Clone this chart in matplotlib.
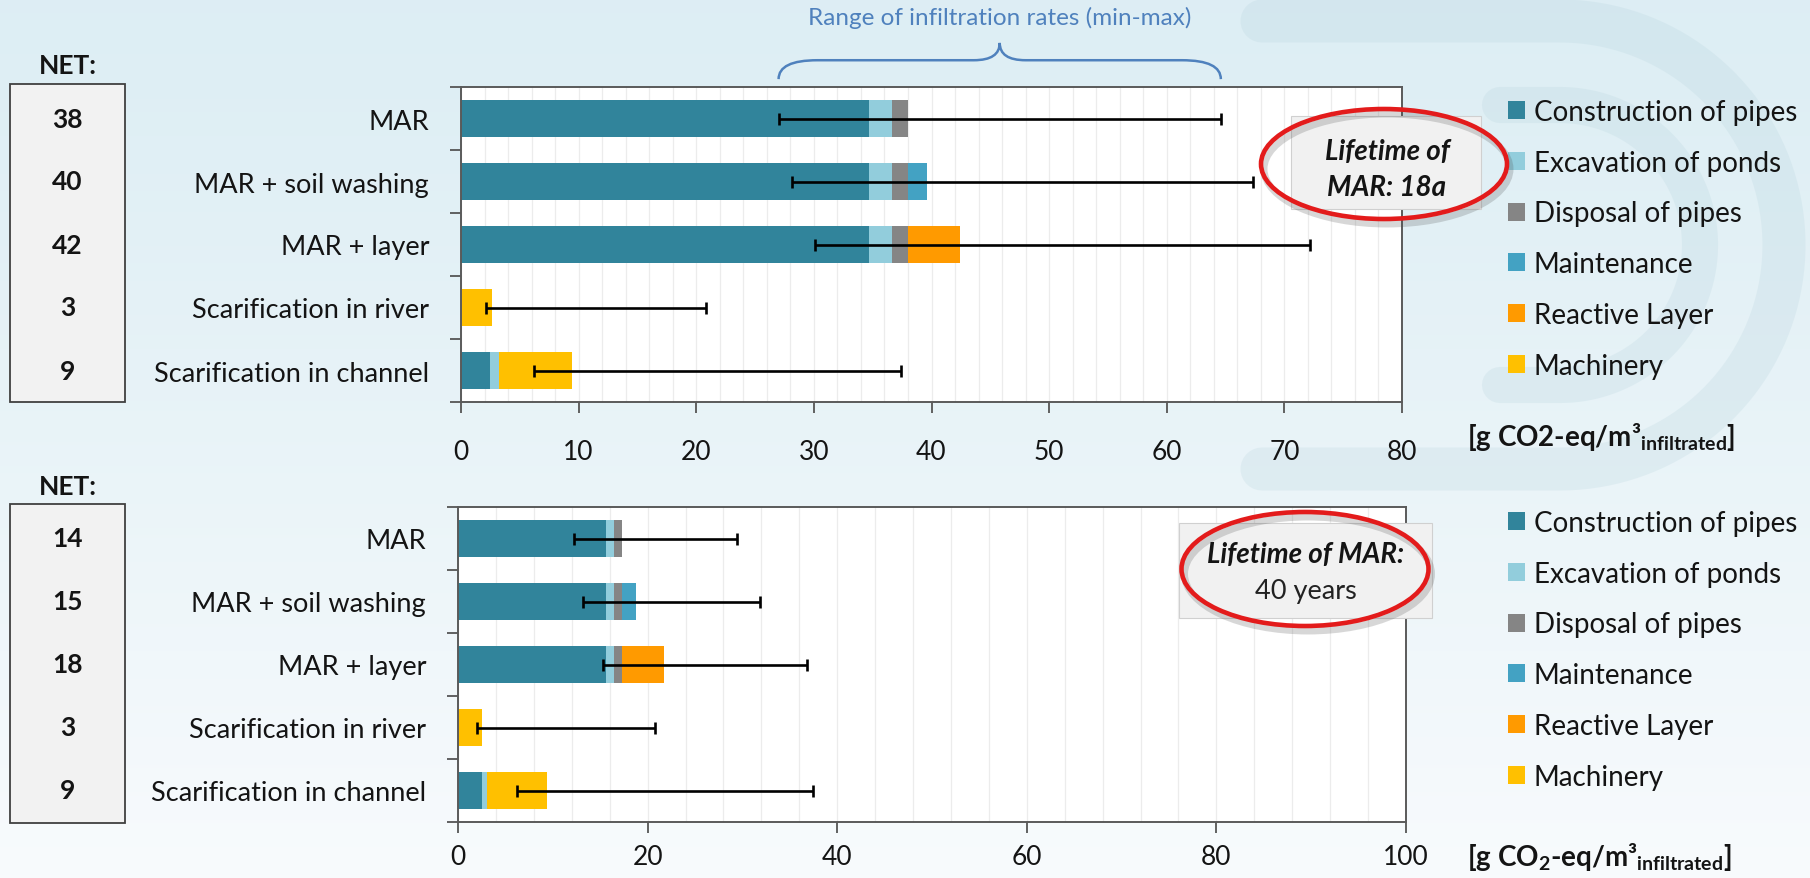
import numpy as np
import matplotlib
matplotlib.use("Agg")
import matplotlib.pyplot as plt
from matplotlib.patches import Rectangle, Ellipse, Patch, PathPatch
from matplotlib.path import Path
from matplotlib.transforms import blended_transform_factory

plt.rcParams['font.family'] = ['Lato', 'DejaVu Sans']
plt.rcParams['mathtext.fontset'] = 'custom'
plt.rcParams['mathtext.rm'] = 'Lato'
plt.rcParams['mathtext.bf'] = 'Lato:bold'
plt.rcParams['mathtext.it'] = 'Lato:italic'

# ---------------------------------------------------------------- data
categories = ["MAR", "MAR + soil washing", "MAR + layer",
              "Scarification in river", "Scarification in channel"]
components = ["Construction of pipes", "Excavation of ponds", "Disposal of pipes",
              "Maintenance", "Reactive Layer", "Machinery"]
colors = ["#31849b", "#92cddc", "#858585", "#43a2c3", "#ff9a00", "#ffc000"]

# lifetime of MAR: 18 years
construction_18 = [34.7, 34.7, 34.7, 0.0, 2.5]
excavation_18 = [1.9, 1.9, 1.9, 0.0, 0.7]
disposal_18 = [1.4, 1.4, 1.4, 0.0, 0.0]
maintenance_18 = [0.0, 1.6, 0.0, 0.0, 0.0]
reactive_18 = [0.0, 0.0, 4.4, 0.0, 0.0]
machinery_18 = [0.0, 0.0, 0.0, 2.6, 6.2]
range_min_18 = [27.0, 28.1, 30.1, 2.1, 6.2]
range_max_18 = [64.6, 67.3, 72.2, 20.8, 37.4]
net_18 = [38, 40, 42, 3, 9]

# lifetime of MAR: 40 years
construction_40 = [15.6, 15.6, 15.6, 0.0, 2.5]
excavation_40 = [0.9, 0.9, 0.9, 0.0, 0.6]
disposal_40 = [0.8, 0.8, 0.8, 0.0, 0.0]
maintenance_40 = [0.0, 1.5, 0.0, 0.0, 0.0]
reactive_40 = [0.0, 0.0, 4.4, 0.0, 0.0]
machinery_40 = [0.0, 0.0, 0.0, 2.5, 6.3]
range_min_40 = [12.2, 13.2, 15.3, 2.0, 6.2]
range_max_40 = [29.4, 31.9, 36.8, 20.8, 37.4]
net_40 = [14, 15, 18, 3, 9]

ticks_18 = [0, 10, 20, 30, 40, 50, 60, 70, 80]
ticks_40 = [0, 20, 40, 60, 80, 100]

# ---------------------------------------------------------------- figure
W, H = 1810, 879
fig = plt.figure(figsize=(W / 100, H / 100), dpi=100)


def fx(px):
    return px / W


def fy(py):
    return 1 - py / H


TXT = '#141414'

# background layer in pixel coordinates
bg = fig.add_axes([0, 0, 1, 1], zorder=-10)
bg.set_xlim(0, W)
bg.set_ylim(H, 0)
bg.axis('off')
grad = np.linspace(0, 1, 256)[:, None]
top_c = np.array([0.867, 0.933, 0.957])
bot_c = np.array([0.973, 0.984, 0.992])
img = top_c + (bot_c - top_c) * grad[..., None] ** 1.2
img = np.repeat(img, 4, axis=1)
bg.imshow(img, extent=(0, W, H, 0), aspect='auto', zorder=0)

# decorative rounded bands
band_col = (0.70, 0.82, 0.86, 0.22)
cx, cy = 1560, 246
for r, x_start, lw in [(224, 1262, 31), (140, 1500, 26)]:
    t = np.linspace(np.pi / 2, -np.pi / 2, 80)
    xs = np.concatenate([[x_start], cx + r * np.cos(t), [x_start]])
    ys = np.concatenate([[cy - r], cy - r * np.sin(t), [cy + r]])
    bg.plot(xs, ys, color=band_col, lw=lw, solid_capstyle='round',
            solid_joinstyle='round', zorder=1)

# NET boxes
for (x0, y0, x1, y1) in [(10, 85, 125, 403), (10, 505, 125, 824)]:
    bg.add_patch(Rectangle((x0, y0), x1 - x0, y1 - y0, facecolor='#f2f2f2',
                           edgecolor='#404040', lw=1.3, zorder=2))

# ---------------------------------------------------------------- panels
ax1 = fig.add_axes([fx(461), fy(403), fx(1402 - 461), (403 - 88) / H])
ax2 = fig.add_axes([fx(458), fy(823), fx(1406 - 458), (823 - 508) / H])

panels = [
    (ax1, [construction_18, excavation_18, disposal_18, maintenance_18,
           reactive_18, machinery_18], range_min_18, range_max_18, net_18,
     ticks_18, 2, 100, 19),
    (ax2, [construction_40, excavation_40, disposal_40, maintenance_40,
           reactive_40, machinery_40], range_min_40, range_max_40, net_40,
     ticks_40, 4, 511, 8),
]

y = np.arange(len(categories))
for ax, comps, lo, hi, net, ticks, minor, leg_top, xpad in panels:
    ax.set_facecolor('white')
    left = np.zeros(len(categories))
    for vals, col in zip(comps, colors):
        vals = np.asarray(vals)
        ax.barh(y, vals, left=left, height=0.6, color=col, lw=0, zorder=2)
        left += vals
    lo = np.asarray(lo)
    hi = np.asarray(hi)
    ax.errorbar((lo + hi) / 2, y, xerr=(hi - lo) / 2, fmt='none', ecolor='black',
                elinewidth=1.9, capsize=4.5, capthick=1.9, zorder=4)

    ax.set_xlim(ticks[0], ticks[-1])
    ax.set_ylim(len(categories) - 0.5, -0.5)
    ax.set_xticks(ticks)
    ax.set_xticks(np.arange(ticks[0], ticks[-1] + 0.01, minor), minor=True)
    ax.grid(which='both', axis='x', color='#ececec', lw=0.9, zorder=0)
    ax.set_axisbelow(True)
    ax.set_yticks(y, labels=categories)
    ax.set_yticks(np.arange(-0.5, len(categories), 1), minor=True)
    ax.tick_params(axis='y', which='major', length=0, pad=23, labelsize=19.5,
                   labelcolor=TXT)
    ax.tick_params(axis='y', which='minor', length=8, width=1.3, color='#555555')
    ax.tick_params(axis='x', which='major', length=8, width=1.3, color='#555555',
                   labelsize=19, pad=xpad, labelcolor=TXT)
    ax.tick_params(axis='x', which='minor', length=0)
    for sp in ax.spines.values():
        sp.set_color('#5a5a5a')
        sp.set_linewidth(1.4)

    # NET values beside each row
    tr = blended_transform_factory(fig.transFigure, ax.transData)
    for yi, v in zip(y, net):
        ax.text(fx(67.5), yi, f"{v}", transform=tr, ha='center', va='center',
                fontsize=19, fontweight='bold', color=TXT, clip_on=False)

    handles = [Patch(facecolor=c, edgecolor='none') for c in colors]
    ax.legend(handles, components, loc='upper left',
              bbox_to_anchor=(fx(1508), fy(leg_top)), bbox_transform=fig.transFigure,
              frameon=False, fontsize=20, handlelength=0.62, handleheight=0.62,
              handletextpad=0.3, labelspacing=0.89, borderpad=0, borderaxespad=0,
              labelcolor=TXT)

fig.text(fx(67.5), fy(66), "NET:", ha='center', va='center', fontsize=19,
         fontweight='bold', color=TXT)
fig.text(fx(67.5), fy(487), "NET:", ha='center', va='center', fontsize=19,
         fontweight='bold', color=TXT)

fig.text(fx(1467), fy(437), r"[g CO2-eq/m³$_{\mathbf{infiltrated}}$]", ha='left',
         va='center', fontsize=20, fontweight='bold', color=TXT)
fig.text(fx(1467), fy(857), r"[g CO$_{\mathbf{2}}$-eq/m³$_{\mathbf{infiltrated}}$]",
         ha='left', va='center', fontsize=20, fontweight='bold', color=TXT)

# brace spanning the infiltration-rate range of the MAR row
btr = blended_transform_factory(ax1.transData, ax1.transAxes)
x0, x1 = range_min_18[0], range_max_18[0]
xm = (x0 + x1) / 2
y_end, y_flat, y_tip = 1.025, 1.085, 1.14
dx_end, dx_tip = 3.3, 2.2
verts = [
    (x0, y_end), (x0, y_flat), (x0 + dx_end, y_flat),
    (xm - dx_tip, y_flat), (xm, y_flat), (xm, y_tip),
    (xm, y_flat), (xm + dx_tip, y_flat),
    (x1 - dx_end, y_flat), (x1, y_flat), (x1, y_end),
]
codes = [Path.MOVETO, Path.CURVE3, Path.CURVE3,
         Path.LINETO, Path.CURVE3, Path.CURVE3,
         Path.CURVE3, Path.CURVE3,
         Path.LINETO, Path.CURVE3, Path.CURVE3]
ax1.add_patch(PathPatch(Path(verts, codes), transform=btr, facecolor='none',
                        edgecolor='#4f81bd', lw=1.8, clip_on=False, zorder=5))
ax1.text(xm, 1.222, "Range of infiltration rates (min-max)", transform=btr,
         ha='center', va='center', fontsize=17.5, color='#4f81bd', clip_on=False)

# ---------------------------------------------------------------- callouts
ov = fig.add_axes([0, 0, 1, 1], zorder=20)
ov.set_xlim(0, W)
ov.set_ylim(H, 0)
ov.axis('off')

for (bx0, by0, bx1, by1, ecx, ecy, ew, eh) in [
        (1291, 117, 1481, 210, 1384, 165, 246, 110),
        (1179, 524, 1432, 619, 1305, 570, 247, 114)]:
    ov.add_patch(Rectangle((bx0, by0), bx1 - bx0, by1 - by0, facecolor='#f1f1f1',
                           edgecolor='#d0d0d0', lw=0.8))
    ov.add_patch(Ellipse((ecx + 3, ecy + 5), ew, eh, facecolor='none',
                         edgecolor=(0.3, 0.3, 0.3, 0.22), lw=5))
    ov.add_patch(Ellipse((ecx, ecy), ew, eh, facecolor='none',
                         edgecolor='#e31b1b', lw=3.3))

ov.text(1387, 152, "Lifetime of", ha='center', va='center', fontsize=20,
        fontweight='bold', fontstyle='italic', color=TXT)
ov.text(1387, 188, "MAR: 18a", ha='center', va='center', fontsize=20,
        fontweight='bold', fontstyle='italic', color=TXT)
ov.text(1306, 555, "Lifetime of MAR:", ha='center', va='center', fontsize=20,
        fontweight='bold', fontstyle='italic', color=TXT)
ov.text(1306, 592, "40 years", ha='center', va='center', fontsize=19.5,
        color='#222222')

fig.savefig("out.png", dpi=100)
